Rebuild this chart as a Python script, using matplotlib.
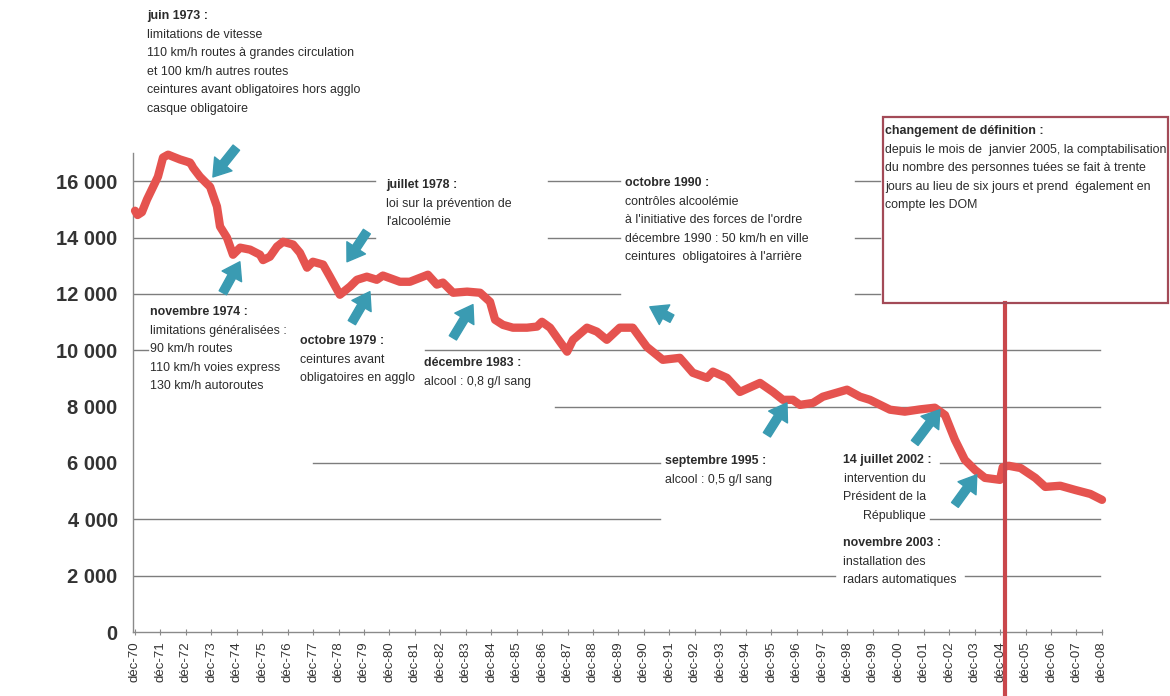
import matplotlib
matplotlib.use('Agg')
import matplotlib.pyplot as plt
from matplotlib.patches import FancyArrowPatch, Rectangle

plt.rcParams['font.family'] = ['Liberation Sans', 'DejaVu Sans']

# ---------------- data ----------------
# 12-month rolling total of road deaths (decimal year, number of deaths)
dates = [1970.92, 1971.02, 1971.19, 1971.39, 1971.71, 1971.82, 1972.02, 1972.22,
         1972.41, 1972.69, 1973.08, 1973.14, 1973.20, 1973.47, 1973.70, 1973.87,
         1974.14, 1974.26, 1974.53, 1974.77, 1975.05, 1975.44, 1975.83, 1975.95,
         1976.22, 1976.50, 1976.74, 1977.13, 1977.40, 1977.68, 1977.91, 1978.31,
         1978.58, 1978.97, 1979.37, 1979.64, 1980.03, 1980.42, 1980.66, 1981.33,
         1981.72, 1982.43, 1982.78, 1983.02, 1983.42, 1983.97, 1984.48, 1984.87,
         1985.07, 1985.38, 1985.77, 1986.32, 1986.72, 1986.91, 1987.23, 1987.62,
         1987.90, 1988.13, 1988.68, 1989.07, 1989.46, 1989.97, 1990.48, 1991.03,
         1991.66, 1992.33, 1992.84, 1993.40, 1993.63, 1994.18, 1994.69, 1995.48,
         1995.99, 1996.38, 1996.77, 1997.05, 1997.56, 1997.95, 1998.90, 1999.41,
         1999.80, 2000.59, 2001.17, 2001.76, 2002.35, 2002.75, 2003.14, 2003.53,
         2003.93, 2004.32, 2004.91, 2005.02, 2005.25, 2005.72, 2006.30, 2006.69,
         2007.28, 2007.87, 2008.46, 2008.92]
deaths = [14950, 14800, 14900, 15350, 15950, 16160, 16840, 16940,
          16870, 16770, 16660, 16580, 16480, 16160, 15950, 15800,
          15100, 14390, 14000, 13390, 13640, 13570, 13390, 13200,
          13320, 13680, 13850, 13750, 13460, 12930, 13140, 13040,
          12610, 11970, 12260, 12500, 12610, 12500, 12650, 12430,
          12430, 12680, 12330, 12400, 12040, 12080, 12040, 11720,
          11080, 10900, 10800, 10800, 10840, 11010, 10800, 10300,
          9950, 10370, 10800, 10660, 10370, 10800, 10800, 10120,
          9660, 9730, 9200, 9020, 9240, 9020, 8520, 8840,
          8520, 8240, 8240, 8060, 8130, 8350, 8600, 8350,
          8240, 7890, 7820, 7900, 7960, 7700, 6820, 6110,
          5750, 5470, 5400, 5850, 5900, 5820, 5470, 5150,
          5190, 5040, 4900, 4690]

tick_years = list(range(1970, 2009))
tick_labels = ['déc-%02d' % (y % 100) for y in tick_years]
y_ticks = [0, 2000, 4000, 6000, 8000, 10000, 12000, 14000, 16000]
y_tick_labels = ['0', '2 000', '4 000', '6 000', '8 000', '10 000', '12 000', '14 000', '16 000']

definition_change = 2005.10   # janvier 2005

# ---------------- layout ----------------
W, H, DPI = 1170, 696, 100
fig = plt.figure(figsize=(W / DPI, H / DPI), dpi=DPI, facecolor='white')
ax = fig.add_axes([133 / W, (H - 632) / H, (1102 - 133) / W, (632 - 153) / H])
ax.set_xlim(1970.84, 2008.92)
ax.set_ylim(0, 17000)

GRID = '#7d7d7d'
RED = '#e5534f'
BLUE = '#3a9bb2'
TXT = '#2b2b2b'

for s in ['top', 'right']:
    ax.spines[s].set_visible(False)
for s in ['left', 'bottom']:
    ax.spines[s].set_color('#8a8a8a')
    ax.spines[s].set_linewidth(1)

ax.set_yticks(y_ticks)
ax.set_yticklabels(y_tick_labels, fontsize=14.5, fontweight='bold', color='#333333')
ax.tick_params(axis='y', length=0, pad=11)

ax.set_xticks([y + 11 / 12 for y in tick_years])
ax.set_xticklabels(tick_labels, rotation=90, fontsize=9.5, color='#333333')
ax.tick_params(axis='x', direction='inout', length=5, color='#8a8a8a', pad=4)

# partial horizontal grid lines (interrupted by the annotations)
grid_segments = [
    (16000, 1970.84, 1980.35), (16000, 1987.15, 1989.97), (16000, 1999.21, 2000.19),
    (14000, 1970.84, 1980.35), (14000, 1987.15, 1989.97), (14000, 1999.21, 2000.19),
    (12000, 1970.84, 1989.97), (12000, 1999.21, 2000.19),
    (10000, 1970.84, 1971.43), (10000, 1982.31, 2008.83),
    (8000, 1987.42, 2008.83),
    (6000, 1977.91, 1991.55), (6000, 2002.55, 2008.83),
    (4000, 1970.84, 1991.55), (4000, 2002.15, 2008.83),
    (2000, 1970.84, 1998.42), (2000, 2003.53, 2008.83),
]
for lvl, x0, x1 in grid_segments:
    ax.plot([x0, x1], [lvl, lvl], color=GRID, lw=1, zorder=1)

# the data line
ax.plot(dates, deaths, color=RED, lw=6, solid_capstyle='round',
        solid_joinstyle='round', zorder=3, clip_on=False)

# definition change: red vertical line + box
ax.plot([definition_change, definition_change], [-2300, 11690], color='#c9474b',
        lw=3, zorder=4, clip_on=False)
fig.patches.append(Rectangle((883 / W, 1 - 303 / H), (1168 - 883) / W, (303 - 117) / H,
                             transform=fig.transFigure, fill=False,
                             edgecolor='#a34a57', lw=1.6))

# arrows (tail -> head) in data coordinates
arrows = [
    ((1974.90, 17190), (1973.98, 16150)),
    ((1974.37, 12040), (1975.04, 13140)),
    ((1980.03, 14210), (1979.25, 13140)),
    ((1979.44, 10980), (1980.15, 12080)),
    ((1983.41, 10440), (1984.20, 11620)),
    ((1992.02, 11120), (1991.15, 11540)),
    ((1995.75, 7000), (1996.54, 8130)),
    ((2001.56, 6710), (2002.55, 7890)),
    ((2003.14, 4510), (2004.00, 5580)),
]
for (ta, tb) in arrows:
    ar = FancyArrowPatch(posA=ta, posB=tb,
                         arrowstyle='simple,head_length=12,head_width=16,tail_width=6',
                         mutation_scale=1, shrinkA=0, shrinkB=0, color=BLUE,
                         transform=ax.transData, zorder=5, clip_on=False)
    ax.add_patch(ar)

# annotations (pixel positions of first line centre)
FS = 8.9
DY = 18.6


def note(x, y, lines, ha='left', xb=None):
    for i, line in enumerate(lines):
        xx = xb if (i == 0 and xb is not None) else x
        fig.text(xx / W, 1 - (y + i * DY) / H, line, ha=ha, va='center',
                 fontsize=FS, color=TXT, fontweight='bold' if i == 0 else 'normal')


note(147, 16, ['juin 1973 :', 'limitations de vitesse',
               '110 km/h routes à grandes circulation', 'et 100 km/h autres routes',
               'ceintures avant obligatoires hors agglo', 'casque obligatoire'])
note(150, 312, ['novembre 1974 :', 'limitations généralisées :', '90 km/h routes',
                '110 km/h voies express', '130 km/h autoroutes'])
note(386, 185, ['juillet 1978 :', 'loi sur la prévention de', "l'alcoolémie"])
note(300, 341, ['octobre 1979 :', 'ceintures avant', 'obligatoires en agglo'])
note(424, 363, ['décembre 1983 :', 'alcool : 0,8 g/l sang'])
note(625, 183, ['octobre 1990 :', 'contrôles alcoolémie',
                "à l'initiative des forces de l'ordre",
                'décembre 1990 : 50 km/h en ville',
                "ceintures  obligatoires à l'arrière"])
note(665, 461, ['septembre 1995 :', 'alcool : 0,5 g/l sang'])
note(926, 460, ['14 juillet 2002 :', 'intervention du', 'Président de la', 'République'],
     ha='right', xb=932)
note(843, 543, ['novembre 2003 :', 'installation des', 'radars automatiques'])
note(885, 131, ['changement de définition :',
                'depuis le mois de  janvier 2005, la comptabilisation',
                'du nombre des personnes tuées se fait à trente',
                'jours au lieu de six jours et prend  également en',
                'compte les DOM'])

fig.savefig('out.png', dpi=DPI, facecolor='white')
